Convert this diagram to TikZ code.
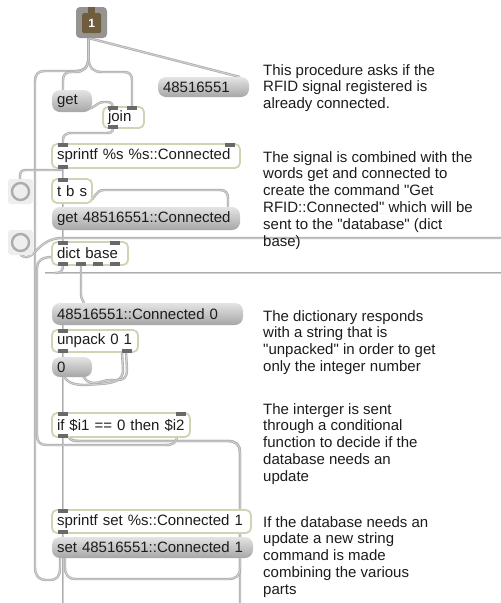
\documentclass[tikz,border=0pt]{standalone}
\usepackage{fontspec}
\setmainfont{Liberation Sans}
\newfontfamily\plainsans{Liberation Sans}
\usetikzlibrary{calc}
\definecolor{objborder}{RGB}{204,214,180}
\definecolor{portdark}{RGB}{105,105,105}
\definecolor{cordedge}{RGB}{172,172,172}
\definecolor{cordmid}{RGB}{208,208,208}
\definecolor{msgtop}{RGB}{228,228,228}
\definecolor{msgbot}{RGB}{166,166,166}
\definecolor{bangbg}{RGB}{238,238,238}
\definecolor{bangring}{RGB}{172,172,172}
\definecolor{inletgray}{RGB}{150,148,144}
\definecolor{inletbrown}{RGB}{112,92,62}
\definecolor{txt}{RGB}{28,28,28}
\newcommand\boxfont{\plainsans\fontsize{15pt}{17pt}\selectfont}
\newcommand\notefont{\plainsans\fontsize{15pt}{16.9pt}\selectfont}
\pgfdeclarelayer{bg}
\pgfdeclarelayer{cords}
\pgfsetlayers{bg,cords,main}
\begin{document}
\begin{tikzpicture}[x=1pt,y=-1pt,
  box/.style={anchor=north west, inner xsep=5pt, inner ysep=0pt, outer sep=0pt,
              align=left, font=\boxfont, text=txt},
  obj/.style={box, draw=objborder, line width=1.8pt, fill=white, rounded corners=5pt},
  msg/.style={box, top color=msgtop, bottom color=msgbot, rounded corners=8pt},
  port/.style={fill=portdark},
  cord/.style={draw=cordedge, line width=0.7pt, double=cordmid, double distance=1pt},
  bangbox/.style={fill=bangbg, rounded corners=3pt, minimum size=25pt, inner sep=0pt, outer sep=0pt},
  ring/.style={draw=bangring, line width=2.4pt, circle, minimum size=17pt, inner sep=0pt},
  note/.style={anchor=north west, inner sep=0pt, align=left, font=\notefont, text=txt}]
\useasboundingbox (0,0) rectangle (501,603);
\begin{pgfonlayer}{bg}
\fill[white] (0,0) rectangle (501,603);
\end{pgfonlayer}

% inlet "1"
\node[anchor=north west, fill=inletgray, rounded corners=4pt, minimum size=31pt, inner sep=0pt, outer sep=0pt] (in1) at (76,7) {};
\node[anchor=north west, fill=inletbrown, rounded corners=1.5pt, minimum width=19pt, minimum height=20pt,
      inner sep=0pt, text=white, font=\bfseries\fontsize{12pt}{12pt}\selectfont] (in1n) at (82,13) {1};
\fill[inletbrown] ($(in1n.north)+(-3.5,1)$) rectangle ++(7,-7);

% objects and messages
\node[msg, text width=81pt, minimum height=20pt] (m48) at (158,77) {\mbox{48516551}};
\node[msg, text width=30pt, minimum height=22pt] (get) at (52,90) {\mbox{get}};
\node[obj, text width=31pt, minimum height=21pt] (join) at (103,107) {\mbox{join}};
\node[obj, text width=178pt, minimum height=24pt] (spr) at (52,144) {\mbox{sprintf \%s \%s::Connected}};
\node[obj, text width=30pt, minimum height=24pt] (tbs) at (52,179) {\mbox{t b s}};
\node[msg, text width=178pt, minimum height=23pt] (getc) at (52,207) {\mbox{get 48516551::Connected}};
\node[obj, text width=66pt, minimum height=23pt] (dict) at (52,242) {\mbox{dict base}};
\node[msg, text width=181pt, minimum height=22pt] (resp) at (52,303) {\mbox{48516551::Connected 0}};
\node[obj, text width=76pt, minimum height=22pt] (unp) at (52,330) {\mbox{unpack 0 1}};
\node[msg, text width=30pt, minimum height=20pt] (num) at (52,357) {\mbox{0}};
\node[obj, text width=128pt, minimum height=24pt] (ifo) at (52,413) {\mbox{if \$i1 == 0 then \$i2}};
\node[obj, text width=189pt, minimum height=23pt] (sset) at (52,510) {\mbox{sprintf set \%s::Connected 1}};
\node[msg, text width=191pt, minimum height=21pt] (setm) at (52,537) {\mbox{set 48516551::Connected 1}};

% bang buttons
\node[bangbox] (bang1) at (20.5,191.5) {};
\node[ring] (ring1) at (bang1) {};
\node[bangbox] (bang2) at (20.5,242.5) {};
\node[ring] (ring2) at (bang2) {};

% inlets and outlets
\fill[port] ($(join.north west)+(5,-1)$) rectangle ++(10,4);
\fill[port] ($(join.north west)+(24,-1)$) rectangle ++(10,4);
\fill[port] ($(join.south west)+(5,1)$) rectangle ++(10,-4);
\fill[port] ($(spr.north west)+(6,-1)$) rectangle ++(10,4);
\fill[port] ($(spr.north east)+(-15,-1)$) rectangle ++(10,4);
\fill[port] ($(spr.south west)+(6,1)$) rectangle ++(10,-4);
\fill[port] ($(tbs.north west)+(6,-1)$) rectangle ++(10,4);
\fill[port] ($(dict.north west)+(6,-1)$) rectangle ++(10,4);
\fill[port] ($(dict.north west)+(58,-1)$) rectangle ++(10,4);
\foreach \dx in {6,24,41,58}{\fill[port] ($(dict.south west)+(\dx,1)$) rectangle ++(10,-4);}
\fill[port] ($(unp.north west)+(6,-1)$) rectangle ++(10,4);
\fill[port] ($(unp.south west)+(6,1)$) rectangle ++(10,-4);
\fill[port] ($(unp.south west)+(70,1)$) rectangle ++(10,-4);
\fill[port] ($(ifo.north west)+(6,-1)$) rectangle ++(10,4);
\fill[port] ($(ifo.north east)+(-14,-1)$) rectangle ++(10,4);
\fill[port] ($(ifo.south west)+(6,1)$) rectangle ++(10,-4);
\fill[port] ($(sset.north west)+(6,-1)$) rectangle ++(10,4);
\fill[port] ($(sset.south west)+(6,1)$) rectangle ++(10,-4);

% port positions used by the patch cords
\coordinate (p-in1) at ($(in1.south)+(-3,0)$);
\coordinate (p-m48) at ($(m48.north east)+(-9,0)$);
\coordinate (p-get-i) at ($(get.north west)+(11,0)$);
\coordinate (p-get-o) at ($(get.south west)+(11,0)$);
\coordinate (p-join-i1) at ($(join.north west)+(10,0)$);
\coordinate (p-join-i2) at ($(join.north west)+(29,0)$);
\coordinate (p-join-o) at ($(join.south west)+(10,0)$);
\coordinate (p-spr-i) at ($(spr.north west)+(11,0)$);
\coordinate (p-spr-o) at ($(spr.south west)+(11,0)$);
\coordinate (p-tbs-i) at ($(tbs.north west)+(11,0)$);
\coordinate (p-tbs-o1) at ($(tbs.south west)+(11,0)$);
\coordinate (p-tbs-o3) at ($(tbs.south east)+(-3,-2)$);
\coordinate (p-getc-i) at ($(getc.north west)+(11,0)$);
\coordinate (p-getc-i2) at ($(getc.north east)+(-12,0)$);
\coordinate (p-getc-o) at ($(getc.south west)+(11,0)$);
\coordinate (p-dict-i) at ($(dict.north west)+(11,0)$);
\coordinate (p-dict-o1) at ($(dict.south west)+(11,0)$);
\coordinate (p-dict-o2) at ($(dict.south west)+(29,0)$);
\coordinate (p-dict-w) at ($(dict.south west)+(0,-8)$);
\coordinate (p-resp-i) at ($(resp.north west)+(32,0)$);
\coordinate (p-resp-o) at ($(resp.south west)+(11,0)$);
\coordinate (p-unp-i) at ($(unp.north west)+(11,0)$);
\coordinate (p-unp-o1) at ($(unp.south west)+(11,0)$);
\coordinate (p-unp-o2) at ($(unp.south west)+(74,0)$);
\coordinate (p-num-i) at ($(num.north west)+(11,0)$);
\coordinate (p-num-o) at ($(num.south west)+(11,0)$);
\coordinate (p-ifo-i) at ($(ifo.north west)+(11,0)$);
\coordinate (p-ifo-o) at ($(ifo.south west)+(11,0)$);
\coordinate (p-ifo-o2) at ($(ifo.south west)+(16,-2)$);
\coordinate (p-ifo-se) at ($(ifo.south east)+(-13,-2)$);
\coordinate (p-setm-a) at ($(setm.south west)+(8,0)$);
\coordinate (p-setm-b) at ($(setm.south west)+(13,0)$);
\coordinate (east-a) at (501,238);
\coordinate (east-b) at (501,273);
\coordinate (west-b) at (45,273);
\coordinate (south-a) at (63,603);
\coordinate (south-b) at (240,603);

\begin{pgfonlayer}{cords}
% fan-out from the inlet
\draw[cord] (p-in1) -- (88.5,56);
\draw[cord] (88.5,56) .. controls (88.5,68) and (84,71) .. (74,71) -- (45,71)
  .. controls (38,71) and (35,74) .. (35,82) -- (35,567)
  .. controls (35,576) and (39,580) .. (46,580) -- (50,580)
  .. controls (57,580) and (60,576) .. (60,568) -- (p-setm-a);
\draw[cord] (88.5,56) .. controls (88.5,68) and (84,72) .. (75,72) -- (71,72)
  .. controls (65,72) and (63,75) .. (63,81) -- (p-get-i);
\draw[cord] (88.5,56) .. controls (88.5,68) and (93,72) .. (102,72) -- (124,72)
  .. controls (130,72) and (132,75) .. (132,81) -- (p-join-i2);
\draw[cord] (p-in1) -- (p-m48);
% get -> join -> sprintf
\draw[cord] (p-get-o) ++(0,-3) -- (86,109) .. controls (95,109) and (96,102) .. (104,102) -- (107,102)
  .. controls (111,102) and (113,104) .. (p-join-i1);
\draw[cord] (p-join-o) .. controls (113,133) and (110,133) .. (104,133) -- (72,133)
  .. controls (65,133) and (63,136) .. (63,140) -- (p-spr-i);
% sprintf -> bang and t b s
\draw[cord] (p-spr-o) .. controls (63,170) and (60,170) .. (56,170) -- (26,170)
  .. controls (21,170) and (20,172) .. (20,177) -- (bang1.center);
\draw[cord] (p-spr-o) -- (p-tbs-i);
\draw[cord] (p-tbs-o3) .. controls (95,200) and (95,190) .. (104,190) -- (220,190)
  .. controls (226,190) and (228,193) .. (228,199) -- (p-getc-i2);
\draw[cord] (p-tbs-o1) -- (p-getc-i);
\draw[cord] (p-getc-o) -- (p-dict-i);
% second bang
\draw[cord] (bang2.center) -- (20,252) .. controls (21,259) and (29,259) .. (36,251)
  .. controls (44,242) and (52,238) .. (62,238) -- (east-a);
% dict outputs
\draw[cord] (west-b) -- (east-b);
\draw[cord] (p-dict-o1) .. controls (63,271) and (61,273) .. (55,273);
\draw[cord] (p-dict-o2) -- (81,294) .. controls (81,299) and (83,300) .. (p-resp-i);
\draw[cord] (p-resp-o) -- (p-unp-i);
\draw[cord] (p-unp-o1) -- (p-num-i);
% unpack right outlet loops
\draw[cord] ($(p-unp-o2)+(-4,0)$) -- (123,370) .. controls (123,380) and (115,383) .. (100,384) -- (85,385)
  .. controls (75,385) and (66,383) .. (63,374);
\draw[cord] (p-unp-o2) -- (127,370) .. controls (127,377) and (124,380) .. (118,380) -- (110,380)
  .. controls (104,380) and (100,383) .. (94,383) .. controls (88,383) and (84,380) .. (82,372);
\draw[cord] (p-num-o) -- (p-ifo-i);
% if outputs
\draw[cord] (p-ifo-o) -- (south-a);
\draw[cord] (p-ifo-o2) .. controls (70,441) and (74,441) .. (80,441) -- (228,441)
  .. controls (236,441) and (240,445) .. (240,452) -- (south-b);
\draw[cord] (p-ifo-o2) .. controls (70,441) and (74,441) .. (80,441) -- (228,441)
  .. controls (236,441) and (240,445) .. (240,452) -- (240,568)
  .. controls (240,576) and (236,579) .. (228,579) -- (76,579)
  .. controls (68,579) and (65,575) .. (65,567) -- (p-setm-b);
\draw[cord] (p-ifo-se) .. controls (177,443) and (173,445) .. (165,445) -- (47,445)
  .. controls (40,445) and (37,442) .. (37,435) -- (37,268)
  .. controls (37,261) and (42,257) .. (p-dict-w);
\draw[cord] ($(sset.south west)+(11,0)$) -- ($(setm.north west)+(11,0)$);
\end{pgfonlayer}

% comments
\node[note] (n1) at (263,64) {This procedure asks if the\\RFID signal registered is\\already connected.};
\node[note] (n2) at (263,151) {The signal is combined with the\\words get and connected to\\create the command "Get\\RFID::Connected" which will be\\sent to the "database" (dict\\base)};
\node[note] (n3) at (263,310) {The dictionary responds\\with a string that is\\"unpacked" in order to get\\only the integer number};
\node[note] (n4) at (263,403) {The interger is sent\\through a conditional\\function to decide if the\\database needs an\\update};
\node[note] (n5) at (263,516) {If the database needs an\\update a new string\\command is made\\combining the various\\parts};
\end{tikzpicture}
\end{document}
